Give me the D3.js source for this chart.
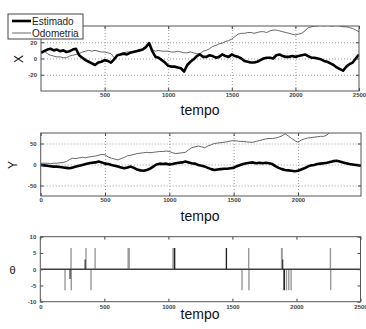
<!DOCTYPE html>
<meta charset="utf-8">
<script src="https://d3js.org/d3.v7.min.js"></script>
<style>
  body { margin: 0; background: #fff; }
  svg text { font-family: "Liberation Sans", Arial, sans-serif; }
</style>
<body>
<div id="chart"></div>
<script>
// samples every 25 time steps
const tStep = 25;

// X panel
const xEstimado = [7,9,11,12,10,11,9,10,8,9,11,12,4,1,-2,-4,-6,-8,-5,-4,
  -2,-3,-5,-1,4,5,6,5,7,8,9,10,11,14,19,9,2,1,-2,-5,
  -9,-10,-10,-11,-12,-16,-8,-4,-1,3,5,2,2,4,3,1,2,5,3,2,
  5,3,2,0,-3,-4,-5,-5,-4,-2,0,1,1,0,4,5,3,2,2,3,
  2,3,4,5,3,1,1,0,-1,-3,-4,-6,-8,-11,-13,-15,-10,-7,-5,0,5];
const xOdometria = [8,9,6,4,3,2,2,1,1,3,4,5,6,8,9,10,9,10,9,8,
  8,7,6,1,3,6,7,8,8,9,9,10,12,15,18,11,9,10,9,9,
  9,8,8,9,8,7,7,8,7,6,6,9,10,12,15,16,18,19,21,22,
  24,27,30,31,31,32,32,31,32,33,33,32,34,35,35,34,33,32,31,30,
  29,30,31,34,38,39,40,40,41,40,41,40,40,41,40,39,39,38,37,35,33];

// Y panel
const yEstimado = [-1,-2,-3,-4,-5,-5,-6,-7,-8,-9,-7,-5,-3,-1,1,3,4,5,7,5,
  2,1,-1,-3,-5,-7,-9,-7,-5,-8,-12,-14,-15,-13,-10,-5,0,2,1,2,
  0,1,3,4,5,7,5,3,2,-1,-3,-5,-8,-11,-13,-12,-11,-10,-10,-9,
  -8,-4,-1,1,3,4,5,3,4,3,4,3,1,-4,-8,-11,-13,-14,-15,-16,
  -15,-12,-9,-5,-2,-1,1,2,3,4,6,8,9,7,5,3,1,0,-1,-2,-3];
const yOdometria = [3,3,3,2,3,3,4,5,7,12,15,14,16,17,16,18,19,20,22,24,
  23,18,15,13,11,14,17,21,22,24,26,27,28,29,28,29,30,31,31,32,
  31,28,26,27,28,29,35,40,42,44,42,40,44,47,50,51,52,53,54,56,
  57,56,55,55,54,53,53,55,57,59,61,62,62,63,65,68,73,68,62,57,
  53,58,61,63,64,65,66,67,67,70,78,82,84,85,86,85,86,87,86,85,85];

// theta panel: [time, value] of each jump
const thetaGray = [[193,-6.5],[240,6.5],[242,-6.5],[357,6.5],[396,-6.5],[428,6.5],
  [686,6.5],[690,6.5],[694,6.5],[1036,6.5],[1040,6.5],[1575,-6.5],[1627,6.5],[1629,-6.5],
  [1884,6.5],[1888,6.5],[1922,-6.5],[1940,-6.5],[1958,-6.5],[2265,6.5],[2267,-6.5]];
const thetaBlack = [[232,-3],[350,3],[1048,6.5],[1050,6.5],[1452,6.5],[1454,6.5],
  [1893,3],[1902,-6.5],[1906,-6.5]];

const legendLabels = ["Estimado", "Odometria"];

const svg = d3.select("#chart").append("svg")
  .attr("width", 366)
  .attr("height", 329);

let clipCount = 0;

function panel(box, xDomain, yDomain, xTicks, xLabels, yTicks, yLabels, grid, pad) {
  const x = d3.scaleLinear().domain(xDomain).range([box.x0, box.x1]);
  const y = d3.scaleLinear().domain(yDomain).range([box.y1, box.y0]);
  const w = box.x1 - box.x0, h = box.y1 - box.y0;
  const g = svg.append("g");

  if (grid) {
    g.append("g")
      .attr("transform", `translate(0,${box.y1})`)
      .call(d3.axisBottom(x).tickValues(xTicks.filter(d => d > xDomain[0] && d < xDomain[1]))
        .tickSize(-h).tickFormat(""))
      .call(a => a.select(".domain").remove())
      .selectAll("line").attr("stroke", "#999").attr("stroke-dasharray", "1,2");
    g.append("g")
      .attr("transform", `translate(${box.x0},0)`)
      .call(d3.axisLeft(y).tickValues(yTicks.filter(d => d > yDomain[0] && d < yDomain[1]))
        .tickSize(-w).tickFormat(""))
      .call(a => a.select(".domain").remove())
      .selectAll("line").attr("stroke", "#999").attr("stroke-dasharray", "1,2");
  }

  const id = "clip" + (clipCount++);
  svg.append("clipPath").attr("id", id)
    .append("rect").attr("x", box.x0).attr("y", box.y0).attr("width", w).attr("height", h);
  const plot = svg.append("g").attr("clip-path", `url(#${id})`);

  // ticks on all four sides, pointing in
  const axes = [
    [d3.axisBottom(x).tickValues(xTicks).tickFormat((d, i) => xLabels[i]), `translate(0,${box.y1})`],
    [d3.axisTop(x).tickValues(xTicks).tickFormat(""), `translate(0,${box.y0})`],
    [d3.axisLeft(y).tickValues(yTicks).tickFormat((d, i) => yLabels[i]), `translate(${box.x0},0)`],
    [d3.axisRight(y).tickValues(yTicks).tickFormat(""), `translate(${box.x1},0)`]
  ];
  axes.forEach(([ax, tr], i) => {
    const a = svg.append("g").attr("transform", tr)
      .call(ax.tickSizeInner(-3).tickSizeOuter(0).tickPadding(i == 0 ? pad : 4));
    a.select(".domain").remove();
    a.selectAll("line").attr("stroke", "#444");
    a.selectAll("text").attr("font-size", 6).attr("font-weight", "bold").attr("fill", "#444")
      .style("font-family", "'Liberation Sans', Arial, sans-serif");
  });

  svg.append("rect")
    .attr("x", box.x0).attr("y", box.y0).attr("width", w).attr("height", h)
    .attr("fill", "none").attr("stroke", "#555").attr("stroke-width", 1);

  return {x, y, plot};
}

function drawLine(p, values, color, width) {
  const line = d3.line().x((d, i) => p.x(i * tStep)).y(d => p.y(d));
  p.plot.append("path").datum(values)
    .attr("fill", "none").attr("stroke", color).attr("stroke-width", width)
    .attr("stroke-linejoin", "round")
    .attr("d", line);
}

function drawSpikes(p, spikes, color, width) {
  const pts = [[0, 0]];
  spikes.forEach(([t, v]) => pts.push([t, 0], [t, v], [t, 0]));
  pts.push([2500, 0]);
  p.plot.append("path").datum(pts)
    .attr("fill", "none").attr("stroke", color).attr("stroke-width", width)
    .attr("d", d3.line().x(d => p.x(d[0])).y(d => p.y(d[1])));
}

function label(txt, x, y, size, rotate) {
  svg.append("text")
    .attr("transform", `translate(${x},${y})` + (rotate ? " rotate(-90)" : ""))
    .attr("text-anchor", "middle")
    .attr("font-size", size)
    .attr("fill", "#111")
    .text(txt);
}

// panel 1
const p1 = panel({x0: 41, x1: 359, y0: 26, y1: 91}, [0, 2500], [-40, 40],
  [500, 1000, 1500, 2000, 2500], ["500", "1000", "1500", "2000", "2500"],
  [-20, 0, 20], ["-20", "0", "20"], true, 2);
drawLine(p1, xOdometria, "#555", 0.9);
drawLine(p1, xEstimado, "#000", 2.6);
label("X", 23, 59, 12, true);
label("tempo", 200, 115, 14);

// panel 2
const p2 = panel({x0: 40.7, x1: 361, y0: 133, y1: 196}, [0, 2490], [-75, 75],
  [0, 500, 1000, 1500, 2000], ["0", "500", "1000", "1500", "2000"],
  [-50, 0, 50], ["-50", "0", "50"], true, 2);
drawLine(p2, yOdometria, "#555", 0.9);
drawLine(p2, yEstimado, "#000", 2.6);
label("Y", 17, 165, 12, true);
label("tempo", 200, 221, 14);

// panel 3
const p3 = panel({x0: 40.3, x1: 360.5, y0: 236.7, y1: 301.7}, [0, 2500], [-10, 10],
  [0, 500, 1000, 1500, 2000, 2500], ["0", "500", "1000", "1500", "2000", "2500"],
  [-10, -5, 0, 5, 10], ["-10", "-5", "0", "5", "10"], false, 3.5);
drawSpikes(p3, thetaGray, "#999", 1.4);
drawSpikes(p3, thetaBlack, "#222", 1.1);
label("θ", 12.5, 274, 11);
label("tempo", 200, 319, 14);

// legend
const lg = svg.append("g");
lg.append("rect").attr("x", 8).attr("y", 14).attr("width", 75).attr("height", 25)
  .attr("fill", "#fff").attr("stroke", "#444");
legendLabels.forEach((name, i) => {
  const yy = 21 + i * 12;
  lg.append("line").attr("x1", 12).attr("x2", 31).attr("y1", yy).attr("y2", yy)
    .attr("stroke", i == 0 ? "#000" : "#555").attr("stroke-width", i == 0 ? 2.6 : 0.9);
  lg.append("text").attr("x", 32).attr("y", yy + 3.6).attr("font-size", 10)
    .attr("fill", "#222").text(name);
});
</script>
</body>
